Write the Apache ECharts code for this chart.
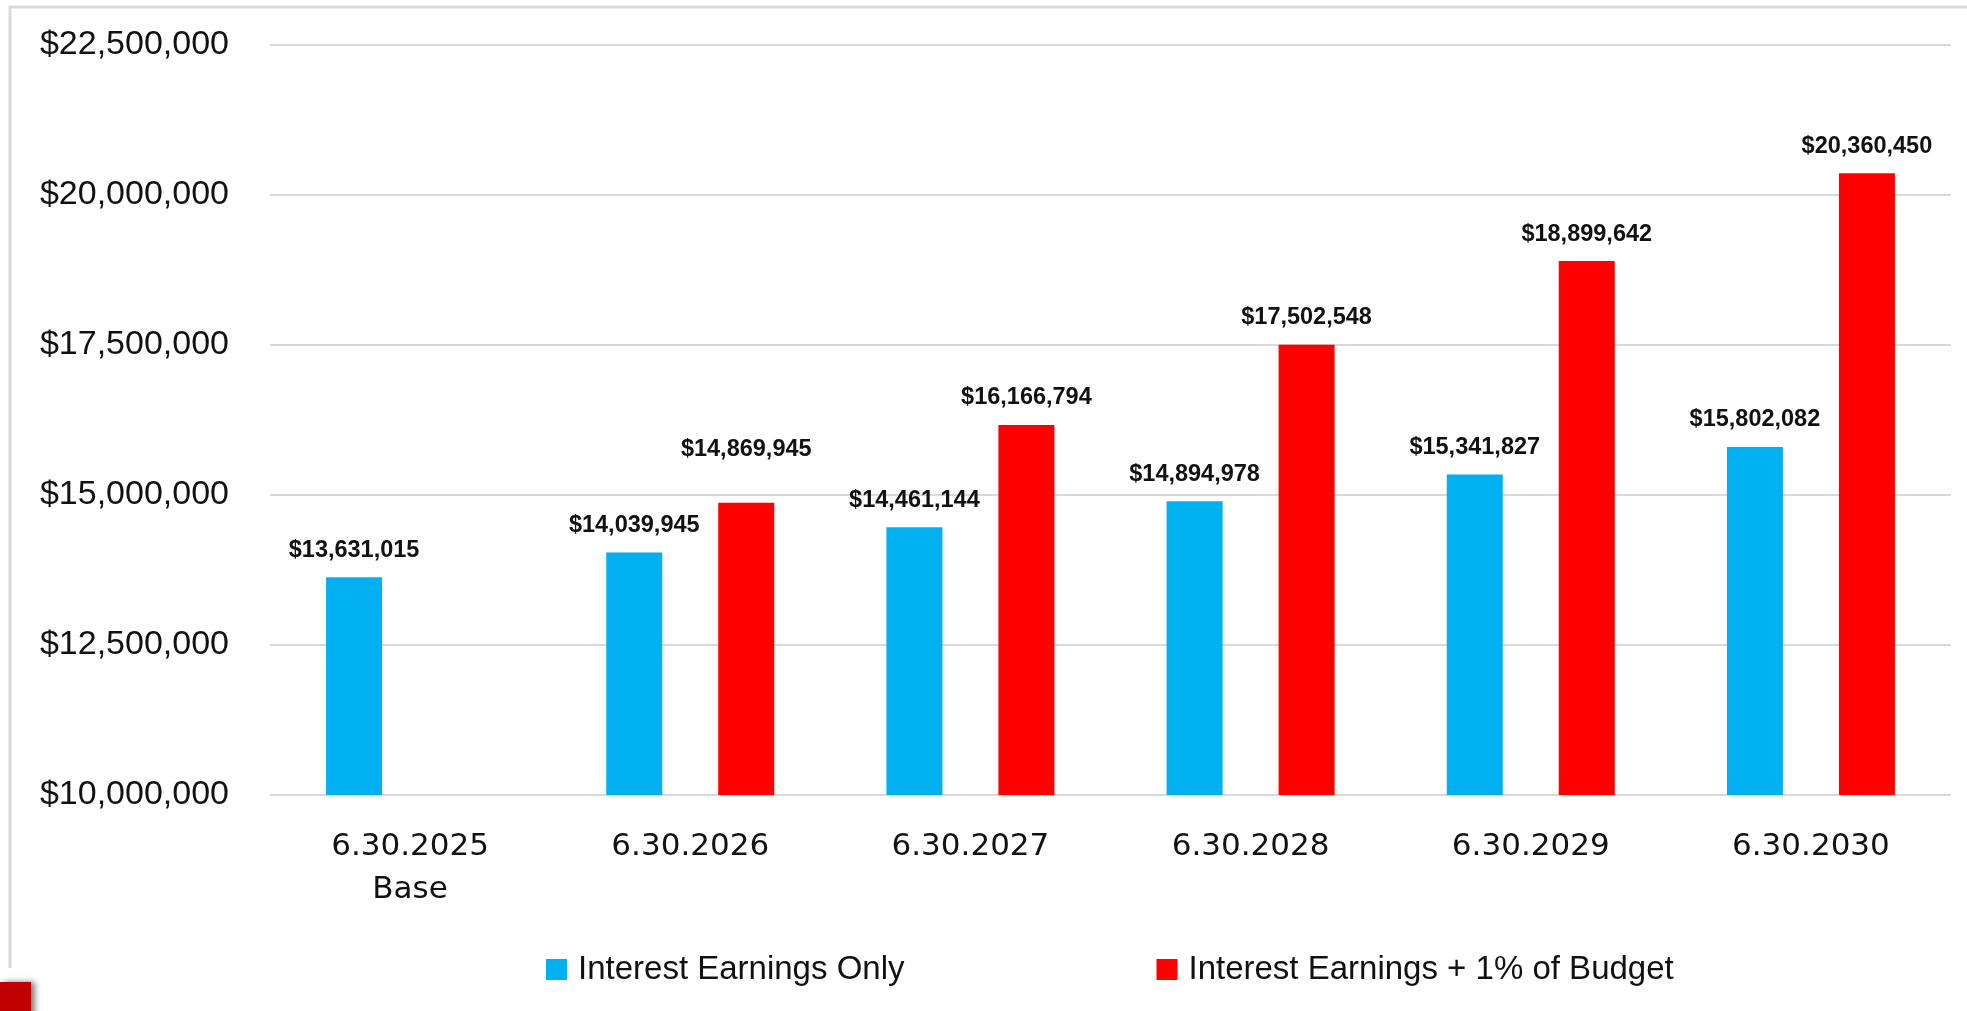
<!doctype html>
<html>
<head>
    <meta charset="utf-8">
    <title>Interest Earnings</title>
    <script src="https://cdn.jsdelivr.net/npm/echarts@6/dist/echarts.min.js"></script>
</head>
<body style="margin:0;background:#fff;">
<style>
    #chartBox{width:1967px;height:1011px;}
</style>
<div id="chartBox"></div>

<script type="text/javascript">
    // values
    var categories = ['6.30.2025\nBase', '6.30.2026', '6.30.2027', '6.30.2028', '6.30.2029', '6.30.2030'];
    var interestOnly = [13631015, 14039945, 14461144, 14894978, 15341827, 15802082];
    var interestPlusBudget = [null, 14869945, 16166794, 17502548, 18899642, 20360450];
    var seriesNames = ['Interest Earnings Only', 'Interest Earnings + 1% of Budget'];

    function money(v){
        return '$' + Number(v).toLocaleString('en-US');
    }

    var labelStyle = {
        show: true,
        position: 'top',
        distance: 15,
        fontFamily: 'Liberation Sans',
        fontWeight: 'bold',
        fontSize: 23.5,
        color: '#111',
        formatter: function (p) { return money(p.value); }
    };

    // the 2026 red label sits higher than the others in the original
    var redData = interestPlusBudget.map(function (v, i) {
        if (i === 1) return {value: v, label: {offset: [0, -26]}};
        return v;
    });

    var option = {
        backgroundColor: '#fff',
        animation: false,
        grid: {left: 270, right: 16, top: 45, bottom: 216, containLabel: false},
        legend: {
            left: 541,
            top: 948,
            itemWidth: 21,
            itemHeight: 21,
            itemGap: 252,
            icon: 'rect',
            textStyle: {fontFamily: 'Liberation Sans', fontSize: 33, color: '#111', padding: [0, 0, 0, 6]},
            data: seriesNames
        },
        xAxis: {
            type: 'category',
            data: categories,
            axisLine: {show: false},
            axisTick: {show: false},
            axisLabel: {
                margin: 30,
                fontFamily: 'DejaVu Sans',
                fontSize: 31,
                lineHeight: 43,
                color: '#111'
            }
        },
        yAxis: {
            type: 'value',
            min: 10000000,
            max: 22500000,
            interval: 2500000,
            axisLine: {show: false},
            axisTick: {show: false},
            splitLine: {lineStyle: {color: '#d9d9d9', width: 2}},
            axisLabel: {
                margin: 41,
                fontFamily: 'Liberation Sans',
                fontSize: 34,
                color: '#111',
                formatter: money
            }
        },
        series: [
            {
                name: seriesNames[0],
                type: 'bar',
                barWidth: 56,
                barGap: '100%',
                itemStyle: {color: '#00b0f0'},
                label: labelStyle,
                data: interestOnly
            },
            {
                name: seriesNames[1],
                type: 'bar',
                barWidth: 56,
                barGap: '100%',
                itemStyle: {color: '#ff0000'},
                label: labelStyle,
                data: redData
            }
        ],
        graphic: [
            // frame of the chart area (left and top edges show)
            {type: 'polyline', silent: true,
                shape: {points: [[10, 968], [10, 7], [1967, 7]]},
                style: {stroke: '#d9d9d9', lineWidth: 3, fill: null}},
            // red slide marker in the corner
            {type: 'rect', silent: true,
                shape: {x: 0, y: 982, width: 31, height: 40},
                style: {fill: '#c00000', shadowBlur: 6, shadowOffsetX: 4, shadowColor: 'rgba(0,0,0,0.5)'}}
        ]
    };

    var chart = echarts.init(document.getElementById('chartBox'));
    chart.setOption(option);
</script>
</body>
</html>
